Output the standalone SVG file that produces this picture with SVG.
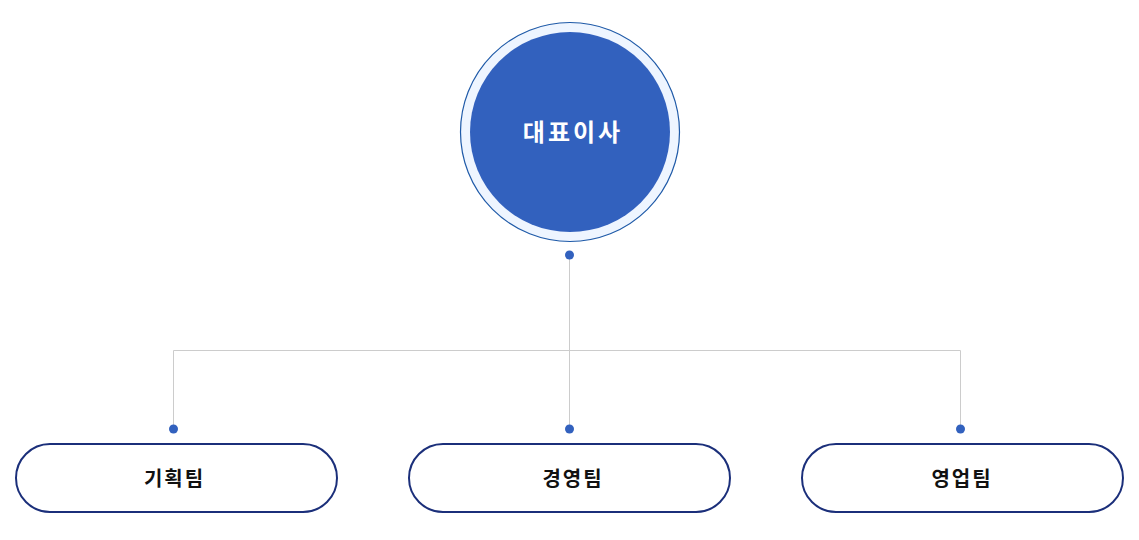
<svg xmlns="http://www.w3.org/2000/svg" width="1139" height="540" viewBox="0 0 1139 540">
<style>
.team rect{fill:#fff;stroke:#1b2f7a;stroke-width:2}
.team text{font-family:"Noto Sans CJK KR","Noto Sans",sans-serif;font-size:20px;font-weight:bold;fill:#111;text-anchor:middle;letter-spacing:2px}
.dot{fill:#3261be}
.conn path{fill:none;stroke:#cccccc;stroke-width:1}
</style>
<rect width="1139" height="540" fill="#fff"/>
<g class="conn" id="connectors">
<path d="M569.5 255V429"/>
<path d="M173.5 429V350.5H960.5V429"/>
<circle class="dot" cx="569.5" cy="255" r="4.5"/>
<circle class="dot" cx="173.5" cy="429" r="4.5"/>
<circle class="dot" cx="569.5" cy="429" r="4.5"/>
<circle class="dot" cx="960.5" cy="429" r="4.5"/>
</g>
<g id="ceo">
<circle cx="570" cy="132" r="109.5" fill="#eef5ff" stroke="#1f5aa8" stroke-width="1.2"/>
<circle cx="570" cy="132" r="100" fill="#3261be"/>
<text x="573" y="141" font-family="Noto Sans CJK KR,Noto Sans,sans-serif" font-size="24" font-weight="bold" fill="#fff" text-anchor="middle" letter-spacing="3">대표이사</text>
</g>
<g id="team1" class="team">
<rect x="16" y="444" width="321" height="68" rx="34"/>
<text x="174.5" y="486">기획팀</text>
</g>
<g id="team2" class="team">
<rect x="409" y="444" width="321" height="68" rx="34"/>
<text x="573" y="486">경영팀</text>
</g>
<g id="team3" class="team">
<rect x="802" y="444" width="321" height="68" rx="34"/>
<text x="962" y="486">영업팀</text>
</g>
</svg>
